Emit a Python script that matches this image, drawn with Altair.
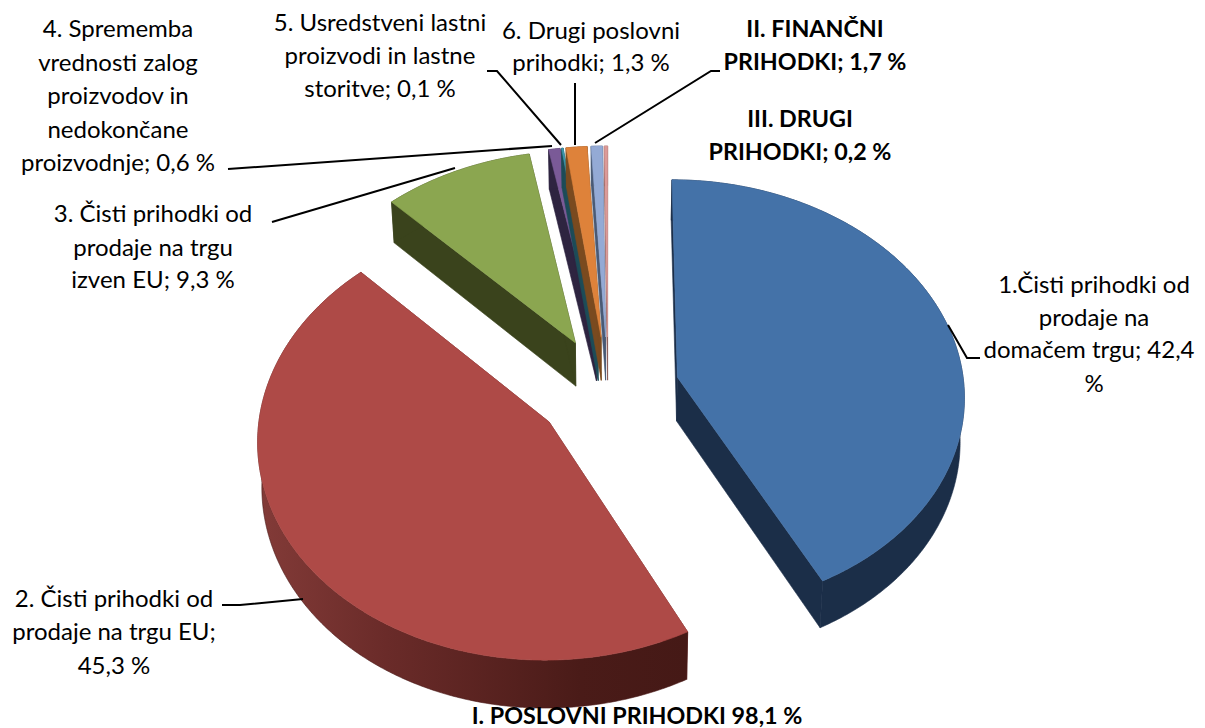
import numpy as np
import pandas as pd
import altair as alt

# shares as drawn in the pie (clockwise from the top)
names = ["1", "2", "3", "4", "5", "6", "II", "III"]
shares = [42.4, 45.3, 9.3, 0.7, 0.1, 1.3, 0.7, 0.2]
top_colors = ["#4472A8", "#AE4A47", "#8BA650", "#7A5A97", "#3D97AD", "#DE823A", "#94AAD5", "#DB9A98"]
wall_colors = ["#1B2E48", "#6A2A28", "#3A431C", "#2E2440", "#1D4C58", "#7A4A1F", "#4A5A75", "#8A5A58"]

label_text = ["1.Čisti prihodki od", "prodaje na", "domačem trgu; 42,4", "%",
              "2. Čisti prihodki od", "prodaje na trgu EU;", "45,3 %",
              "3. Čisti prihodki od", "prodaje na trgu", "izven EU; 9,3 %",
              "4. Sprememba", "vrednosti zalog", "proizvodov in", "nedokončane", "proizvodnje; 0,6 %",
              "5. Usredstveni lastni", "proizvodi in lastne", "storitve; 0,1 %",
              "6. Drugi poslovni", "prihodki; 1,3 %"]
label_x = [1094, 1094, 1089, 1094, 114, 114, 114, 153, 153, 153,
           118, 118, 118, 118, 118, 380, 380, 380, 591, 591]
label_y = [285, 318, 350, 384, 599, 632, 666, 214, 248, 280,
           29, 63, 96, 130, 163, 23, 56, 89, 31, 63]
bold_text = ["II. FINANČNI", "PRIHODKI; 1,7 %", "III. DRUGI", "PRIHODKI; 0,2 %", "I. POSLOVNI PRIHODKI 98,1 %"]
bold_x = [815, 815, 800, 800, 637]
bold_y = [30, 63, 120, 153, 717]

leaders = [
    [(948, 325), (967, 358), (980, 358)],
    [(222, 605), (240, 605), (303, 599)],
    [(272, 222), (455, 168)],
    [(228, 169), (552, 146)],
    [(487, 71), (497, 71), (561, 145)],
    [(575, 83), (575, 145)],
    [(720, 71), (711, 71), (595, 143)],
]

# projection of the tilted pie
CX, CY, R, KY, P, EXPL, DEPTH, Q, T0 = 608, 390, 287, 0.7537, 0.078, 0.25, 44, 0.012, 0.0

def project(px, pv, drop=0.0):
    s = 1 + P * pv
    x = CX + R * px * s * (1 - Q * drop)
    y = CY + R * KY * pv * s + DEPTH * s * drop
    return x, y

xs = alt.Scale(domain=[8, 1197], nice=False, zero=False)
ys = alt.Scale(domain=[8, 728], nice=False, zero=False, reverse=True)

def poly(pts, fill, stroke=None):
    df = pd.DataFrame({"x": [p[0] for p in pts], "y": [p[1] for p in pts], "i": range(len(pts))})
    return alt.Chart(df).mark_line(
        fill=fill, stroke=stroke or (fill if isinstance(fill, str) else "#4a1a18"), strokeWidth=0.6,
        interpolate="linear-closed",
    ).encode(x=alt.X("x:Q", scale=xs, axis=None), y=alt.Y("y:Q", scale=ys, axis=None), order="i:Q")

red_grad = alt.LinearGradient(gradient="linear", x1=0, x2=1, y1=0, y2=0, stops=[
    alt.GradientStop(color="#833B38", offset=0),
    alt.GradientStop(color="#6A2B29", offset=0.3),
    alt.GradientStop(color="#4A1B18", offset=0.75),
    alt.GradientStop(color="#451916", offset=1),
])

total = sum(shares)
layers = []
start = T0
for k, sh in enumerate(shares):
    sweep = sh / total * 360
    end = start + sweep
    mid = np.radians((start + end) / 2)
    ax, av = EXPL * np.sin(mid), -EXPL * np.cos(mid)
    ts = np.radians(np.linspace(start, end, max(4, int(sweep * 2))))
    ox, ov = ax + np.sin(ts), av - np.cos(ts)
    apex_t, apex_b = project(ax, av), project(ax, av, 1)
    arc_t = [project(a, b) for a, b in zip(ox, ov)]
    arc_b = [project(a, b, 1) for a, b in zip(ox, ov)]
    wall = wall_colors[k]
    layers.append(poly([apex_t, arc_t[0], arc_b[0], apex_b], wall))
    layers.append(poly([apex_t, arc_t[-1], arc_b[-1], apex_b], wall))
    layers.append(poly(arc_t + arc_b[::-1], red_grad if k == 1 else wall))
    layers.append(poly([apex_t] + arc_t, top_colors[k]))
    start = end

rows = []
for n, line in enumerate(leaders):
    for i, (x, y) in enumerate(line):
        rows.append({"n": n, "i": i, "x": x, "y": y})
leader_chart = alt.Chart(pd.DataFrame(rows)).mark_line(color="black", strokeWidth=2).encode(
    x=alt.X("x:Q", scale=xs, axis=None), y=alt.Y("y:Q", scale=ys, axis=None), detail="n:N", order="i:Q")

FONT = "Lato"
labels = alt.Chart(pd.DataFrame({"t": label_text, "x": label_x, "y": label_y})).mark_text(
    font=FONT, fontSize=24, dy=1, align="center", baseline="middle", color="black"
).encode(x=alt.X("x:Q", scale=xs, axis=None), y=alt.Y("y:Q", scale=ys, axis=None), text="t:N")
bolds = alt.Chart(pd.DataFrame({"t": bold_text, "x": bold_x, "y": bold_y})).mark_text(
    font=FONT, fontSize=23.3, fontWeight="bold", align="center", baseline="middle", color="black"
).encode(x=alt.X("x:Q", scale=xs, axis=None), y=alt.Y("y:Q", scale=ys, axis=None), text="t:N")

chart = alt.layer(*layers, leader_chart, labels, bolds).properties(
    width=1189, height=720, padding=0, autosize=alt.AutoSizeParams(type="none"), background="white"
).configure_view(stroke=None)

chart.save("out.html", embed_options={"renderer": "svg", "actions": False})
